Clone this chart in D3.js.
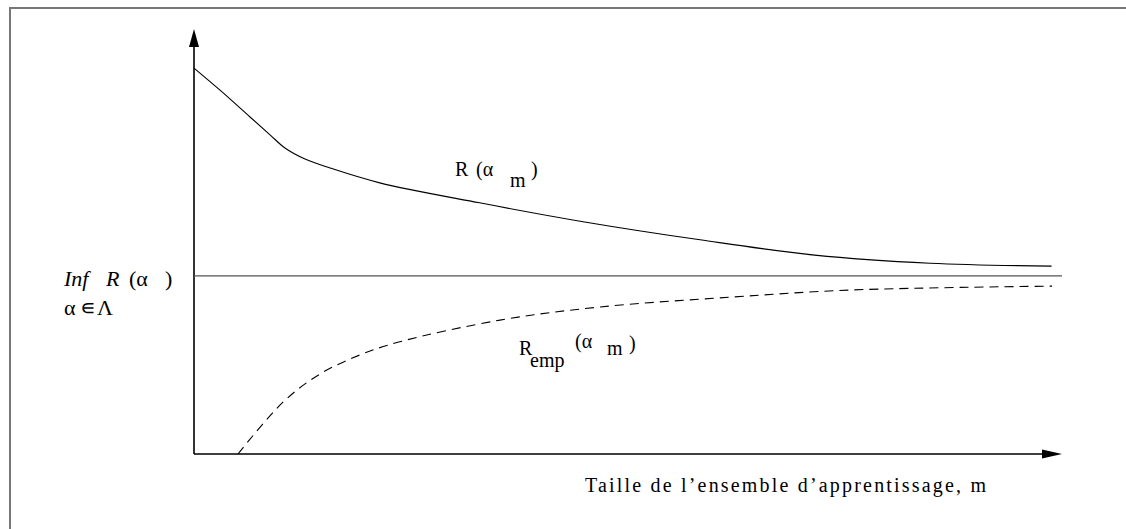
<!DOCTYPE html>
<html>
<head>
<meta charset="utf-8">
<script src="https://cdn.jsdelivr.net/npm/d3@7"></script>
<style>
  html, body { margin: 0; background: #fff; overflow: hidden; }
  svg { display: block; }
</style>
</head>
<body>
<div id="chart"></div>
<script>
// sketch of true risk vs empirical risk, arbitrary units
const mTrue = [0, 3.0, 6.45, 8.76, 10.48, 12.79, 15.67, 21.4, 32.9, 45.0, 58.3, 71.5, 84.8, 98.8];
const riskTrue = [90.8, 85.6, 79.3, 75.1, 72.0, 69.4, 67.3, 63.8, 59.1, 54.6, 50.4, 46.8, 44.9, 44.2];

const mEmp = [5.07, 10.25, 14.5, 19.1, 23.7, 35.25, 46.8, 61.75, 75.9, 98.85];
const riskEmp = [0, 12.2, 18.8, 23.3, 26.4, 31.5, 34.6, 36.9, 38.6, 39.5];

const infRisk = 41.9;
const xLabel = "Taille de l\u2019ensemble d\u2019apprentissage, m";

const width = 1126, height = 529;
const serif = "Liberation Serif";

let svg = d3.select("#chart").append("svg")
    .attr("width", width)
    .attr("height", height);

// frame (top + left edges only visible)
svg.append("path")
    .attr("d", "M10,529 L10,8 L1126,8")
    .attr("fill", "none")
    .attr("stroke", "#777")
    .attr("stroke-width", 2);

let x = d3.scaleLinear().domain([0, 100]).range([194, 1062]);
let y = d3.scaleLinear().domain([0, 100]).range([454, 29]);

let line = d3.line()
    .x(d => x(d[0]))
    .y(d => y(d[1]))
    .curve(d3.curveCatmullRom.alpha(0.5));

// axes with arrow heads
svg.append("line")
    .attr("x1", x(0)).attr("y1", y(0))
    .attr("x2", x(0)).attr("y2", y(100) + 16)
    .attr("stroke", "#000").attr("stroke-width", 1.6);
svg.append("path")
    .attr("d", "M" + x(0) + "," + y(100) + " L" + (x(0) - 5) + "," + (y(100) + 18) +
        " L" + (x(0) + 5) + "," + (y(100) + 18) + "Z")
    .attr("fill", "#000");

svg.append("line")
    .attr("x1", x(0)).attr("y1", y(0))
    .attr("x2", x(100) - 18).attr("y2", y(0))
    .attr("stroke", "#000").attr("stroke-width", 1.6);
svg.append("path")
    .attr("d", "M" + x(100) + "," + y(0) + " L" + (x(100) - 20) + "," + (y(0) - 4.5) +
        " L" + (x(100) - 20) + "," + (y(0) + 4.5) + "Z")
    .attr("fill", "#000");

// inf R line
svg.append("line")
    .attr("x1", x(0)).attr("y1", y(infRisk))
    .attr("x2", x(100)).attr("y2", y(infRisk))
    .attr("stroke", "#555").attr("stroke-width", 1.3);

// R(alpha_m)
svg.append("path")
    .datum(d3.zip(mTrue, riskTrue))
    .attr("d", line)
    .attr("fill", "none")
    .attr("stroke", "#000")
    .attr("stroke-width", 1.1);

// R_emp(alpha_m)
svg.append("path")
    .datum(d3.zip(mEmp, riskEmp))
    .attr("d", line)
    .attr("fill", "none")
    .attr("stroke", "#000")
    .attr("stroke-width", 1.1)
    .attr("stroke-dasharray", "9,6");

// labels
function txt(s, px, py, size, italic) {
  let t = svg.append("text")
      .attr("x", px).attr("y", py)
      .attr("font-family", serif)
      .attr("font-size", size)
      .text(s);
  if (italic) t.attr("font-style", "italic");
  return t;
}

txt(xLabel, 585, 492, 20).attr("textLength", 401).attr("lengthAdjust", "spacing");

txt("R", 455, 176, 20);
txt("(\u03b1", 476, 176, 20);
txt("m", 510, 187, 20);
txt(")", 531, 176, 20);

txt("R", 519, 355, 20);
txt("emp", 530, 367, 20);
txt("(\u03b1", 575, 348, 20);
txt("m", 607, 355, 20);
txt(")", 629, 350, 20);

txt("Inf", 64, 286, 22, true);
txt("R", 106, 286, 22, true);
txt("(\u03b1", 129, 286, 22);
txt(")", 165, 286, 22);
txt("\u03b1", 64, 315, 22);
txt("\u220a", 80, 315, 22);
txt("\u039b", 97, 315, 22);
</script>
</body>
</html>
